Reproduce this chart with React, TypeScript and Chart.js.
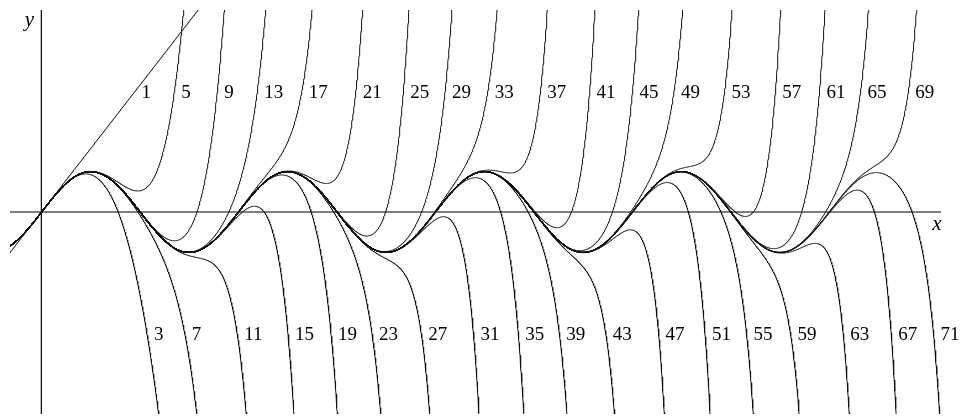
import React, { useEffect, useRef } from "react";
import { Chart, registerables } from "chart.js";

Chart.register(...registerables);

// Degrees of the Taylor polynomials of sin(x) shown in the figure
const DEGREES_TOP: number[] = [1, 5, 9, 13, 17, 21, 25, 29, 33, 37, 41, 45, 49, 53, 57, 61, 65, 69];
const DEGREES_BOTTOM: number[] = [3, 7, 11, 15, 19, 23, 27, 31, 35, 39, 43, 47, 51, 55, 59, 63, 67, 71];

// Heights (data units) at which the degree labels sit, right of each curve
const LABEL_Y_TOP = 2.97;
const LABEL_Y_BOTTOM = -3.0;

// Axis ranges
const X_MIN = -1;
const X_MAX = 28.7;
const Y_MIN = -5;
const Y_MAX = 5;
const X_STEP = 0.01;

function taylorSin(x: number, degree: number): number {
  let term = x;
  let sum = x;
  for (let k = 1; k + 2 <= degree; k += 2) {
    term = (-term * x * x) / ((k + 1) * (k + 2));
    sum += term;
  }
  return sum;
}

function polyPoints(degree: number) {
  const pts: { x: number; y: number }[] = [];
  const n = Math.round((X_MAX - X_MIN) / X_STEP);
  let started = false;
  let pending: { x: number; y: number } | null = null;
  for (let i = 0; i <= n; i++) {
    const x = X_MIN + i * X_STEP;
    const y = taylorSin(x, degree);
    const out = y > Y_MAX + 1 || y < Y_MIN - 1;
    if (out) {
      if (started) {
        pts.push({ x, y: Math.max(-50, Math.min(50, y)) });
        break;
      }
      pending = { x, y: Math.max(-50, Math.min(50, y)) };
    } else {
      if (!started && pending) pts.push(pending);
      started = true;
      pts.push({ x, y });
    }
  }
  return pts;
}

// x where the polynomial last crosses the given level inside the plot (where it diverges)
function crossing(degree: number, level: number): number {
  const n = Math.round((X_MAX - X_MIN) / X_STEP);
  let last = X_MAX;
  for (let i = 0; i < n; i++) {
    const x0 = X_MIN + i * X_STEP;
    const x1 = x0 + X_STEP;
    const a = taylorSin(x0, degree) - level;
    const b = taylorSin(x1, degree) - level;
    if (a === 0 || a * b < 0) {
      last = x0 + (X_STEP * Math.abs(a)) / (Math.abs(a) + Math.abs(b));
    }
  }
  return last;
}

const labelPlugin = {
  id: "degreeLabels",
  afterDatasetsDraw(chart: any) {
    const { ctx, scales } = chart;
    const xs = scales.x;
    const ys = scales.y;
    const fontPx = 19;
    const half = fontPx * 0.338;
    const gap = 7;
    ctx.save();
    ctx.fillStyle = "#000";
    ctx.textAlign = "left";
    ctx.textBaseline = "alphabetic";
    ctx.font = fontPx + 'px "Liberation Serif", "DejaVu Serif", serif';
    DEGREES_TOP.forEach((d) => {
      const cx = crossing(d, LABEL_Y_TOP);
      ctx.fillText(String(d), xs.getPixelForValue(cx) + gap, ys.getPixelForValue(LABEL_Y_TOP) + half);
    });
    DEGREES_BOTTOM.forEach((d) => {
      const cx = crossing(d, LABEL_Y_BOTTOM);
      ctx.fillText(String(d), xs.getPixelForValue(cx) + gap, ys.getPixelForValue(LABEL_Y_BOTTOM) + half);
    });
    ctx.font = 'italic 21px "Liberation Serif", "DejaVu Serif", serif';
    ctx.textAlign = "center";
    ctx.textBaseline = "middle";
    ctx.fillText("y", xs.getPixelForValue(0) - 12, ys.getPixelForValue(Y_MAX) + 10);
    ctx.fillText("x", xs.getPixelForValue(X_MAX) - 4, ys.getPixelForValue(0) + 12);
    ctx.restore();
  },
};

export default function App() {
  const ref = useRef<HTMLCanvasElement | null>(null);
  useEffect(() => {
    if (!ref.current) return;
    const degrees = [...DEGREES_TOP, ...DEGREES_BOTTOM].sort((a, b) => a - b);
    const datasets: any[] = degrees.map((d) => ({
      label: "T" + d,
      data: polyPoints(d),
      borderColor: "#111",
      borderWidth: 1,
      pointRadius: 0,
      tension: 0,
      fill: false,
    }));
    datasets.push({
      label: "x-axis",
      data: [
        { x: X_MIN, y: 0 },
        { x: X_MAX, y: 0 },
      ],
      borderColor: "#000",
      borderWidth: 1.2,
      pointRadius: 0,
    });
    datasets.push({
      label: "y-axis",
      data: [
        { x: 0, y: Y_MIN },
        { x: 0, y: Y_MAX },
      ],
      borderColor: "#000",
      borderWidth: 1.2,
      pointRadius: 0,
    });
    const chart = new Chart(ref.current, {
      type: "line",
      data: { datasets },
      options: {
        animation: false,
        responsive: false,
        devicePixelRatio: 1,
        parsing: false,
        normalized: true,
        layout: { padding: { left: 10, right: 21, top: 10, bottom: 3 } },
        scales: {
          x: { type: "linear", min: X_MIN, max: X_MAX, display: false },
          y: { type: "linear", min: Y_MIN, max: Y_MAX, display: false },
        },
        plugins: { legend: { display: false }, tooltip: { enabled: false } },
        events: [],
      } as any,
      plugins: [labelPlugin],
    });
    return () => chart.destroy();
  }, []);
  return (
    <div style={{ position: "fixed", left: 0, top: 0, width: 962, height: 417, background: "#fff" }}>
      <canvas ref={ref} width={962} height={417} />
    </div>
  );
}
